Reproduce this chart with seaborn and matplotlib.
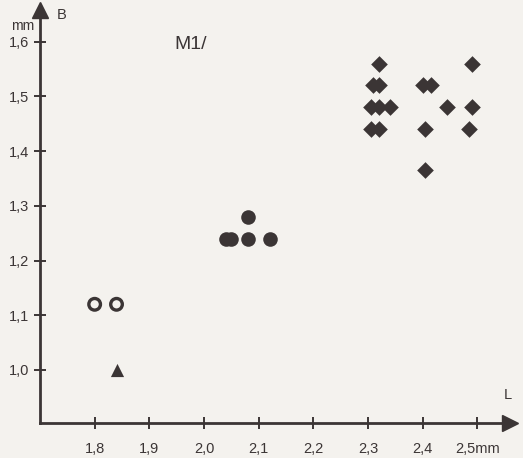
import pandas as pd
import seaborn as sns
import matplotlib.pyplot as plt

# ====== data ======
open_L = [1.80, 1.84]
open_B = [1.12, 1.12]

tri_L = [1.84]
tri_B = [1.00]

dot_L = [2.04, 2.05, 2.08, 2.12, 2.08]
dot_B = [1.24, 1.24, 1.24, 1.24, 1.28]

dia_L = [2.32, 2.49, 2.31, 2.32, 2.40, 2.415, 2.305, 2.32, 2.34,
         2.445, 2.49, 2.305, 2.32, 2.405, 2.485, 2.405]
dia_B = [1.56, 1.56, 1.52, 1.52, 1.52, 1.52, 1.48, 1.48, 1.48,
         1.48, 1.48, 1.44, 1.44, 1.44, 1.44, 1.365]

x_ticks = [1.8, 1.9, 2.0, 2.1, 2.2, 2.3, 2.4, 2.5]
x_labels = ["1,8", "1,9", "2,0", "2,1", "2,2", "2,3", "2,4", "2,5mm"]
y_ticks = [1.0, 1.1, 1.2, 1.3, 1.4, 1.5, 1.6]
y_labels = ["1,0", "1,1", "1,2", "1,3", "1,4", "1,5", "1,6"]

INK = "#3b3535"
BG = "#f4f2ee"

sns.set_style("ticks")
plt.rcParams["font.family"] = ["Liberation Sans", "DejaVu Sans"]

fig = plt.figure(figsize=(5.23, 4.58), dpi=100, facecolor=BG)
ax = fig.add_axes([40 / 523, 35 / 458, 470 / 523, 413 / 458])
ax.set_facecolor(BG)

sns.scatterplot(x=open_L, y=open_B, ax=ax, marker="o", s=70,
                facecolor="none", edgecolor=INK, linewidth=2.4, zorder=3)
sns.scatterplot(x=tri_L, y=tri_B, ax=ax, marker="^", s=90,
                color=INK, linewidth=0, zorder=3)
sns.scatterplot(x=dot_L, y=dot_B, ax=ax, marker="o", s=110,
                color=INK, linewidth=0, zorder=3)
sns.scatterplot(x=dia_L, y=dia_B, ax=ax, marker="D", s=72,
                color=INK, linewidth=0, zorder=3)

ax.set_xlim(1.7, 2.56)
ax.set_ylim(0.903, 1.658)

for side in ["top", "right"]:
    ax.spines[side].set_visible(False)
for side in ["left", "bottom"]:
    ax.spines[side].set_color(INK)
    ax.spines[side].set_linewidth(2)

ax.set_xticks(x_ticks, x_labels)
ax.set_yticks(y_ticks, y_labels)
ax.tick_params(direction="inout", length=8, width=1.4, color=INK,
               labelsize=10.5, labelcolor=INK)
ax.tick_params(axis="x", pad=10)
ax.tick_params(axis="y", pad=4)

# arrow heads
ax.plot(1, 0, ">", color=INK, ms=11, transform=ax.transAxes, clip_on=False)
ax.plot(0, 1, "^", color=INK, ms=11, transform=ax.transAxes, clip_on=False)

ax.text(0.035, 1.005, "B", transform=ax.transAxes, fontsize=10.5,
        color=INK, va="top", ha="left")
ax.text(-0.012, 0.977, "mm", transform=ax.transAxes, fontsize=10,
        color=INK, va="top", ha="right")
ax.text(0.995, 0.05, "L", transform=ax.transAxes, fontsize=10.5,
        color=INK, va="bottom", ha="center")
ax.text(1.945, 1.595, "M1/", fontsize=14, color=INK, va="center", ha="left")

plt.savefig("out.png", dpi=100, facecolor=BG)
plt.close()
